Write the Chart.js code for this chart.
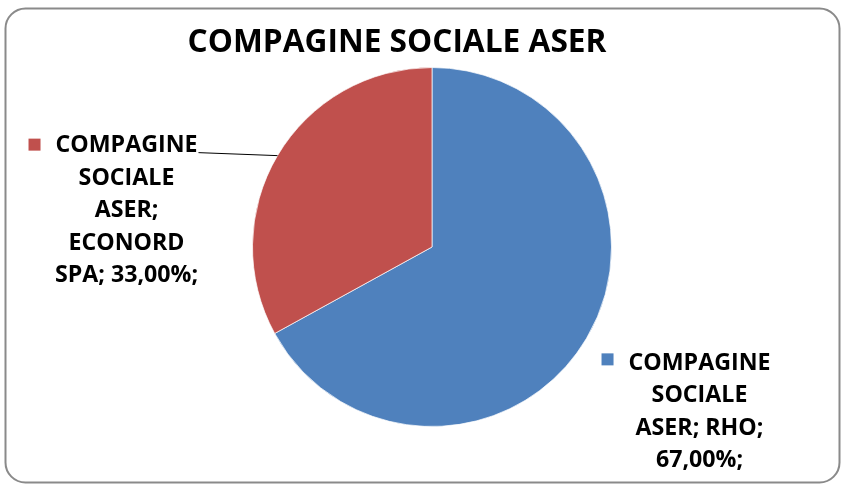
<!DOCTYPE html>
<html>
<head>
<meta charset="utf-8">
<script src="https://cdn.jsdelivr.net/npm/chart.js@4.4.1/dist/chart.umd.min.js"></script>
<style>
  html, body { margin: 0; padding: 0; background: #fff; }
  #wrap { position: relative; width: 846px; height: 487px; }
</style>
</head>
<body>
<div id="wrap"><canvas id="myChart" width="846" height="487"></canvas></div>
<script>
var chartTitle = 'COMPAGINE SOCIALE ASER';
var seriesName = 'COMPAGINE SOCIALE ASER';
var categories = ['RHO', 'ECONORD SPA'];
var shares = [67, 33];
var colours = ['#4F81BD', '#C0504D'];

var fontFamily = '"Open Sans", "DejaVu Sans", sans-serif';

// label placement relative to the point where the slice's mid-angle meets the rim
var labelLayout = [
    { dx: 113, dy: 25, keyDy: -3, leader: false },   // RHO: first-line centre
    { dx: -151, dy: -10, keyDy: 0, leader: true }     // ECONORD SPA
];

function boldSize(ctx, text, width) {
    ctx.font = 'bold 100px ' + fontFamily;
    return 100 * width / ctx.measureText(text).width;
}

function wrapWords(ctx, text, maxW) {
    var words = text.split(' ');
    var lines = [];
    var cur = '';
    words.forEach(function (w) {
        var test = cur ? cur + ' ' + w : w;
        if (cur && ctx.measureText(test).width > maxW) {
            lines.push(cur);
            cur = w;
        } else {
            cur = test;
        }
    });
    if (cur) lines.push(cur);
    return lines;
}

var decorations = {
    id: 'decorations',
    beforeDraw: function (chart) {
        var ctx = chart.ctx;
        ctx.save();
        ctx.fillStyle = '#fff';
        ctx.fillRect(0, 0, chart.width, chart.height);
        ctx.beginPath();
        ctx.roundRect(5.5, 8.5, 834, 474, 20);
        ctx.strokeStyle = '#8a8a8a';
        ctx.lineWidth = 2;
        ctx.stroke();
        ctx.restore();
    },
    afterDraw: function (chart) {
        var ctx = chart.ctx;
        ctx.save();
        ctx.fillStyle = '#000';
        ctx.textAlign = 'center';
        ctx.textBaseline = 'middle';

        // title
        var ts = boldSize(ctx, chartTitle, 419);
        ctx.font = 'bold ' + ts + 'px ' + fontFamily;
        ctx.fillText(chartTitle, 397, 43);

        // data labels
        var ls = boldSize(ctx, 'COMPAGINE', 142);
        ctx.font = 'bold ' + ls + 'px ' + fontFamily;
        var lineH = 32.5;
        var total = shares.reduce(function (a, b) { return a + b; }, 0);
        var meta = chart.getDatasetMeta(0);
        meta.data.forEach(function (arc, i) {
            var p = arc.getProps(['x', 'y', 'startAngle', 'endAngle', 'outerRadius'], true);
            var mid = (p.startAngle + p.endAngle) / 2;
            var px = p.x + Math.cos(mid) * p.outerRadius;
            var py = p.y + Math.sin(mid) * p.outerRadius;
            var pct = (shares[i] / total * 100).toFixed(2).replace('.', ',');
            var text = seriesName + '; ' + categories[i] + '; ' + pct + '%;';
            var lines = wrapWords(ctx, text, 150);
            var lay = labelLayout[i];
            var cx = px + lay.dx;
            var cy = py + lay.dy;
            lines.forEach(function (ln, k) {
                ctx.fillText(ln, cx, cy + k * lineH);
            });
            var firstW = ctx.measureText(lines[0]).width;
            // colour key square
            ctx.fillStyle = colours[i];
            ctx.fillRect(cx - firstW / 2 - 27, cy - 7 + lay.keyDy, 12, 12);
            ctx.fillStyle = '#000';
            if (lay.leader) {
                ctx.beginPath();
                ctx.moveTo(cx + firstW / 2 + 1, cy + 7);
                ctx.lineTo(px, py);
                ctx.strokeStyle = '#000';
                ctx.lineWidth = 1;
                ctx.stroke();
            }
        });
        ctx.restore();
    }
};

var ctx = document.getElementById('myChart').getContext('2d');
var chart = new Chart(ctx, {
    type: 'pie',
    data: {
        labels: categories,
        datasets: [{
            label: seriesName,
            data: shares,
            backgroundColor: colours,
            borderColor: 'rgba(255,255,255,0.7)',
            borderWidth: 1
        }]
    },
    options: {
        responsive: false,
        animation: false,
        layout: { padding: { top: 67, bottom: 60, left: 232, right: 214 } },
        plugins: {
            legend: { display: false },
            tooltip: { enabled: false },
            title: { display: false }
        }
    },
    plugins: [decorations]
});
</script>
</body>
</html>
